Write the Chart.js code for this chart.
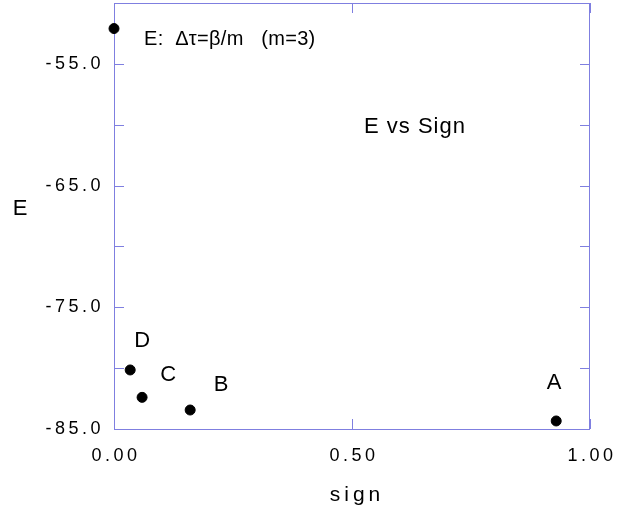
<!DOCTYPE html>
<html>
<head>
<meta charset="utf-8">
<script src="https://cdn.jsdelivr.net/npm/chart.js@4.4.0/dist/chart.umd.min.js"></script>
<style>
html,body{margin:0;padding:0;background:#fff;}
#wrap{width:629px;height:510px;position:relative;}
</style>
</head>
<body>
<div id="wrap"><canvas id="c" width="629" height="510"></canvas></div>
<script>
// ---- data ----
const pointNames = ['A', 'B', 'C', 'D', 'E'];
const signValues = [0.929, 0.160, 0.059, 0.034, 0.000];
const energyValues = [-84.34, -83.44, -82.40, -80.15, -52.10];
const xTickValues = [0, 0.5, 1];
const yMin = -85, yMax = -50, yStep = 5;
const xMin = 0, xMax = 1, xStep = 0.5;

// ---- styling (label offsets in pixels relative to each point) ----
const labelOffsets = {A:[-2,-38], B:[31,-25], C:[26,-22], D:[12,-29]};
const FRAME = '#7f7fe0';
const FONT = '"Liberation Sans", Arial, sans-serif';

const points = signValues.map((x, i) => ({x: x, y: energyValues[i]}));

const framePlugin = {
  id: 'frame',
  beforeDraw(chart) { chart.ctx.letterSpacing = '3.5px'; },
  beforeDatasetsDraw(chart) {
    const ctx = chart.ctx;
    ctx.letterSpacing = '0px';
    const a = chart.chartArea;
    const xs = chart.scales.x, ys = chart.scales.y;
    ctx.save();
    ctx.strokeStyle = FRAME;
    ctx.lineWidth = 1;
    ctx.strokeRect(a.left + 0.5, a.top + 0.5, a.right - a.left - 1, a.bottom - a.top);
    ctx.beginPath();
    ys.ticks.forEach(t => {
      const py = Math.round(ys.getPixelForValue(t.value)) + 0.5;
      ctx.moveTo(a.left, py); ctx.lineTo(a.left + 10, py);
      ctx.moveTo(a.right, py); ctx.lineTo(a.right - 10, py);
    });
    xTickValues.forEach(v => {
      const px = Math.round(xs.getPixelForValue(v)) + 0.5;
      ctx.moveTo(px, a.bottom); ctx.lineTo(px, a.bottom - 10);
      ctx.moveTo(px, a.top); ctx.lineTo(px, a.top + 10);
    });
    ctx.stroke();
    ctx.restore();
  },
  afterDraw(chart) {
    const ctx = chart.ctx;
    const xs = chart.scales.x, ys = chart.scales.y;
    ctx.save();
    ctx.fillStyle = '#000';
    ctx.textAlign = 'center';
    ctx.textBaseline = 'middle';
    ctx.letterSpacing = '0px';
    ctx.font = '22px ' + FONT;
    pointNames.forEach((n, i) => {
      const off = labelOffsets[n];
      if (!off) return;
      ctx.fillText(n, xs.getPixelForValue(signValues[i]) + off[0], ys.getPixelForValue(energyValues[i]) + off[1]);
    });
    // axis titles
    ctx.font = '22px ' + FONT;
    ctx.fillText('E', 20, 209);
    ctx.letterSpacing = '4px';
    ctx.font = '21px ' + FONT;
    ctx.fillText('sign', 357, 495);
    // annotations
    ctx.letterSpacing = '1px';
    ctx.font = '22px ' + FONT;
    ctx.textAlign = 'left';
    ctx.fillText('E vs Sign', 364, 127);
    ctx.letterSpacing = '0.3px';
    ctx.font = '20px ' + FONT;
    ctx.fillText('E:  \u0394\u03C4=\u03B2/m   (m=3)', 144, 39);
    ctx.restore();
  }
};

new Chart(document.getElementById('c'), {
  type: 'scatter',
  data: {
    datasets: [{
      data: points,
      backgroundColor: '#000',
      borderColor: '#000',
      pointRadius: 5,
      pointHoverRadius: 5,
      clip: false
    }]
  },
  options: {
    responsive: false,
    animation: false,
    events: [],
    layout: {autoPadding: false, padding: {top: 3, right: 39, left: 0, bottom: 0}},
    plugins: {legend: {display: false}, tooltip: {enabled: false}},
    scales: {
      x: {
        type: 'linear', min: xMin, max: xMax,
        afterFit: s => { s.height = 81; s.paddingLeft = 0; s.paddingRight = 0; },
        border: {display: false},
        grid: {display: false, drawTicks: false},
        ticks: {
          stepSize: xStep, padding: 16, labelOffset: 2, color: '#000',
          font: {family: FONT, size: 18},
          callback: v => Number(v).toFixed(2)
        }
      },
      y: {
        type: 'linear', min: yMin, max: yMax,
        afterFit: s => { s.width = 114; s.paddingTop = 0; s.paddingBottom = 0; },
        border: {display: false},
        grid: {display: false, drawTicks: false},
        ticks: {
          stepSize: yStep, padding: 10, color: '#000',
          font: {family: FONT, size: 18},
          callback: v => (Math.round(v) % 10 !== 0) ? Number(v).toFixed(1) : ''
        }
      }
    }
  },
  plugins: [framePlugin]
});
</script>
</body>
</html>
